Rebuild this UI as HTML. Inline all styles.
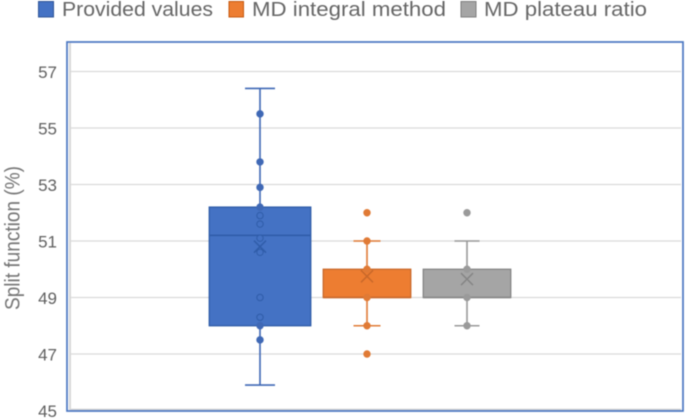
<!DOCTYPE html>
<html>
<head>
<meta charset="utf-8">
<title>Split function box plot</title>
<style>
html,body{margin:0;padding:0;background:#fff;width:685px;height:419px;overflow:hidden}
svg{display:block;font-family:"Liberation Sans",sans-serif}
</style>
</head>
<body>
<svg id="chart" width="685" height="419" viewBox="0 0 685 419" xmlns="http://www.w3.org/2000/svg">
  <g id="soft" style="filter:blur(0.4px)">
    <g id="grid"></g>
    <line x1="70" x2="681" y1="409.5" y2="409.5" stroke="#cfcfcf" stroke-width="1.5"/>
    <line x1="70" x2="70" y1="43" y2="410" stroke="#d8d8d8" stroke-width="2"/>
    <rect x="67" y="42" width="616" height="369" fill="none" stroke="#4a76c2" stroke-width="1.7"/>
    <g id="ticks"></g>
    <text transform="translate(19.5,238) rotate(-90)" text-anchor="middle" font-size="21" fill="#757575" textLength="144" lengthAdjust="spacingAndGlyphs">Split function (%)</text>
    <g id="boxes"></g>
    <g>
      <g>
        <rect x="38.5" y="1.5" width="15" height="15.5" fill="#4472c4" stroke="#2f5597"/>
        <text x="62" y="16" font-size="20.5" fill="#666666" textLength="151" lengthAdjust="spacingAndGlyphs">Provided values</text>
      </g>
      <g>
        <rect x="229" y="1.5" width="14.5" height="15.5" fill="#ed7d31" stroke="#c55a11"/>
        <text x="252" y="16" font-size="20.5" fill="#666666" textLength="194" lengthAdjust="spacingAndGlyphs">MD integral method</text>
      </g>
      <g>
        <rect x="461" y="1.5" width="15" height="15.5" fill="#a5a5a5" stroke="#7f7f7f"/>
        <text x="484" y="16" font-size="20.5" fill="#666666" textLength="163" lengthAdjust="spacingAndGlyphs">MD plateau ratio</text>
      </g>
    </g>
  </g>
</svg>
<script>
const tickLabels = [45, 47, 49, 51, 53, 55, 57];
const seriesNames = ['provided-values', 'md-integral-method', 'md-plateau-ratio'];
const boxLow = [45.9, 48, 48];
const boxQ1 = [48, 49, 49];
const boxMedian = [51.2, 49, 49];
const boxQ3 = [52.2, 50, 50];
const boxHigh = [56.4, 51, 51];
const boxMean = [50.8, 49.75, 49.65];
const pointsProvided = [55.5, 53.8, 52.9, 52.2, 51.9, 51.6, 51.1, 50.6, 49, 48.3, 48, 47.5];
const pointsIntegral = [52, 51, 50, 49, 48, 47];
const pointsPlateau = [52, 50, 49, 48];

const NS = 'http://www.w3.org/2000/svg';
const seriesPoints = [pointsProvided, pointsIntegral, pointsPlateau];
const fills = ['#4472c4', '#ed7d31', '#a5a5a5'];
const strokes = ['#2f5ca8', '#c8682a', '#858585'];
const lineColors = ['#3f68b5', '#e07a35', '#999999'];
const centers = [260, 367, 467];
const widths = [101.5, 87.5, 87.5];
const capWidths = [30, 27, 25];

function y(v) { return 410.5 - (v - 45) * 28.25; }

function make(tag, attrs, parent) {
  const el = document.createElementNS(NS, tag);
  for (const k in attrs) el.setAttribute(k, attrs[k]);
  parent.appendChild(el);
  return el;
}

const grid = document.getElementById('grid');
const ticks = document.getElementById('ticks');
tickLabels.forEach(function (t) {
  if (t !== 45) {
    const g = make('line', { x1: 71, x2: 681, y1: y(t), y2: y(t), stroke: '#d9d9d9', 'stroke-width': 1.3 }, grid);
    
    
  }
  const l = make('text', { x: 57, y: y(t) + 6.5, 'text-anchor': 'end', 'font-size': 17, fill: '#5f5f5f' }, ticks);
  l.textContent = t;
  
  
});

const boxes = document.getElementById('boxes');
seriesNames.forEach(function (name, i) {
  const c = centers[i], w = widths[i], cap = capWidths[i];
  const col = lineColors[i], st = strokes[i];
  const g = make('g', {}, boxes);
  
  

  const stem = make('path', {
    d: 'M' + c + ' ' + y(boxHigh[i]) + 'V' + y(boxQ3[i]) + 'M' + c + ' ' + y(boxQ1[i]) + 'V' + y(boxLow[i]),
    stroke: col, 'stroke-width': 1.6, fill: 'none'
  }, g);
  
  

  const caps = make('path', {
    d: 'M' + (c - cap / 2) + ' ' + y(boxHigh[i]) + 'h' + cap + 'M' + (c - cap / 2) + ' ' + y(boxLow[i]) + 'h' + cap,
    stroke: col, 'stroke-width': 1.6, fill: 'none'
  }, g);
  
  

  const rect = make('rect', {
    x: c - w / 2, y: y(boxQ3[i]), width: w, height: y(boxQ1[i]) - y(boxQ3[i]),
    fill: fills[i], stroke: st, 'stroke-width': 1.3
  }, g);
  
  

  const med = make('line', {
    x1: c - w / 2, x2: c + w / 2, y1: y(boxMedian[i]), y2: y(boxMedian[i]),
    stroke: st, 'stroke-width': 1.5
  }, g);
  
  

  seriesPoints[i].forEach(function (v) {
    const inside = v < boxQ3[i] && v > boxQ1[i];
    const p = make('circle', {
      cx: c, cy: y(v), r: inside ? 3.2 : 3.7,
      fill: inside ? fills[i] : (fills[i] === '#a5a5a5' ? '#9a9a9a' : col),
      stroke: inside ? st : 'none', 'stroke-width': inside ? 1 : 0
    }, g);
    
    
  });

  const m = 6;
  const my = y(boxMean[i]);
  const mean = make('path', {
    d: 'M' + (c - m) + ' ' + (my - m) + 'L' + (c + m) + ' ' + (my + m) + 'M' + (c - m) + ' ' + (my + m) + 'L' + (c + m) + ' ' + (my - m),
    stroke: st, 'stroke-width': 1.5, fill: 'none'
  }, g);
  
  
});
</script>
</body>
</html>
